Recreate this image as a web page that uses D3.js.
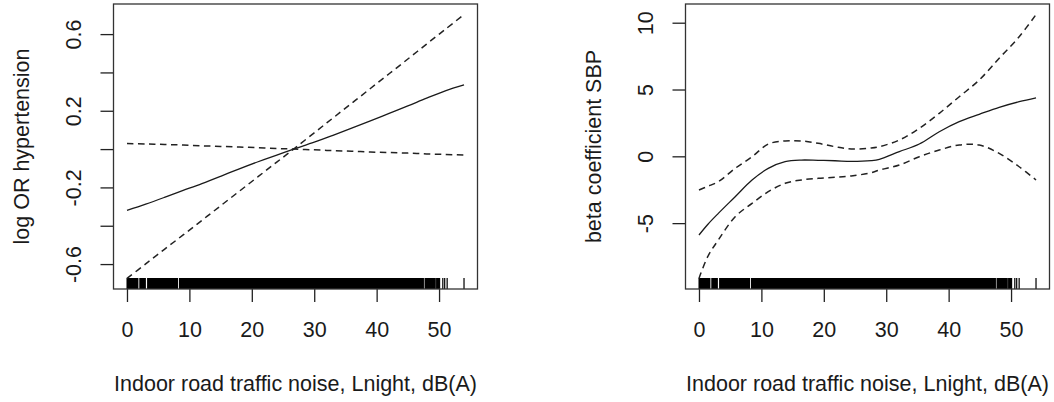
<!DOCTYPE html>
<html>
<head>
<meta charset="utf-8">
<script src="https://cdn.jsdelivr.net/npm/d3@7"></script>
<style>
  body { margin: 0; background: #fff; }
  svg text { font-family: "Liberation Sans", Arial, sans-serif; font-size: 21.5px; fill: #1a1a1a; }
</style>
</head>
<body>
<div id="chart"></div>
<script>
// x grid and series, left panel (log OR hypertension)
var leftX     = [0, 3, 6, 9, 12, 15, 18, 21, 24, 26.7, 30, 33, 36, 39, 42, 45, 48, 51, 54];
var leftFit   = [-0.320, -0.287, -0.252, -0.216, -0.180, -0.142, -0.103, -0.066, -0.031, 0, 0.036, 0.072, 0.109, 0.147, 0.186, 0.225, 0.266, 0.304, 0.335];
var leftCiA   = [-0.675, -0.599, -0.523, -0.448, -0.372, -0.296, -0.220, -0.144, -0.068, 0, 0.085, 0.162, 0.239, 0.316, 0.393, 0.470, 0.548, 0.625, 0.702];
var leftCiB   = [0.029, 0.027, 0.024, 0.021, 0.017, 0.014, 0.011, 0.007, 0.003, 0, -0.004, -0.008, -0.011, -0.015, -0.018, -0.021, -0.025, -0.028, -0.031];
var leftYTicks  = [-0.6, -0.4, -0.2, 0, 0.2, 0.4, 0.6];
var leftYLabels = [-0.6, -0.2, 0.2, 0.6];

// right panel (beta coefficient SBP)
var rightX     = [0, 1.4, 3.1, 5.8, 8.5, 11.1, 13.8, 16.4, 19.1, 21.8, 24.4, 27.6, 28.9, 32.1, 35.3, 38.5, 41.7, 44.9, 48.1, 51.3, 54];
var rightFit   = [-5.89, -5.10, -4.27, -3.02, -1.77, -0.90, -0.40, -0.28, -0.30, -0.33, -0.38, -0.32, -0.22, 0.35, 0.92, 1.84, 2.59, 3.14, 3.67, 4.09, 4.38];
var rightUpper = [-2.52, -2.25, -1.90, -0.90, -0.03, 0.92, 1.15, 1.15, 0.97, 0.72, 0.55, 0.62, 0.72, 1.22, 2.10, 3.22, 4.46, 5.71, 7.34, 8.95, 10.61];
var rightLower = [-9.14, -7.51, -6.26, -4.52, -3.52, -2.65, -2.02, -1.77, -1.65, -1.57, -1.47, -1.23, -1.03, -0.65, -0.03, 0.47, 0.85, 0.85, 0.22, -0.78, -1.77];
var rightYTicks  = [-5, 0, 5, 10];
var rightYLabels = [-5, 0, 5, 10];

// shared
var xTicks = [0, 10, 20, 30, 40, 50];
var rugSpans = [[0, 1.75], [2.05, 2.95], [3.3, 8.1], [8.4, 47.5], [47.75, 49.4], [49.6, 50.1]];
var rugSingles = [50.6, 50.9, 51.3, 54];
var xTitle = "Indoor road traffic noise, Lnight, dB(A)";

var svg = d3.select("#chart").append("svg")
  .attr("width", 1054)
  .attr("height", 402);

function pad(ext) {
  var r = ext[1] - ext[0];
  return [ext[0] - 0.04 * r, ext[1] + 0.04 * r];
}

function drawPanel(p) {
  var xs = d3.scaleLinear().domain(pad(d3.extent(p.x))).range([p.left, p.right]);
  var allY = p.fit.concat(p.ciA, p.ciB);
  var ys = d3.scaleLinear().domain(pad(d3.extent(allY))).range([p.bottom, p.top]);

  var g = svg.append("g");

  // rug
  g.selectAll(".rugspan").data(rugSpans).enter().append("rect")
    .attr("x", function (d) { return xs(d[0]) - 0.5; })
    .attr("width", function (d) { return xs(d[1]) - xs(d[0]) + 1; })
    .attr("y", p.bottom - 11)
    .attr("height", 11)
    .attr("fill", "#000");
  g.selectAll(".rugtick").data(rugSingles).enter().append("line")
    .attr("x1", function (d) { return xs(d); })
    .attr("x2", function (d) { return xs(d); })
    .attr("y1", p.bottom - 11)
    .attr("y2", p.bottom)
    .attr("stroke", "#111")
    .attr("stroke-width", 1.3);

  // lines
  var line = d3.line()
    .x(function (d, i) { return xs(p.x[i]); })
    .y(function (d) { return ys(d); })
    .curve(d3.curveCatmullRom);

  g.append("path").attr("d", line(p.fit))
    .attr("fill", "none").attr("stroke", "#1a1a1a").attr("stroke-width", 1.3);
  [p.ciA, p.ciB].forEach(function (s) {
    g.append("path").attr("d", line(s))
      .attr("fill", "none").attr("stroke", "#222").attr("stroke-width", 1.5)
      .attr("stroke-dasharray", "6.5,4.5");
  });

  // x axis
  var xAxis = d3.axisBottom(xs).tickValues(xTicks).tickSize(13).tickSizeOuter(0).tickPadding(20)
    .tickFormat(function (d) { return String(d); });
  var gx = g.append("g").attr("transform", "translate(0," + p.bottom + ")").call(xAxis);
  gx.select(".domain").remove();
  gx.selectAll("line").attr("stroke", "#222").attr("stroke-width", 1.3);
  gx.selectAll("text").attr("fill", "#1a1a1a").style("font-size", "21.5px")
    .style("font-family", "'Liberation Sans', Arial, sans-serif");

  // y axis
  var yAxis = d3.axisLeft(ys).tickValues(p.yTicks).tickSize(13).tickSizeOuter(0)
    .tickFormat(function (d) {
      var hit = p.yLabels.some(function (v) { return Math.abs(v - d) < 1e-9; });
      return hit ? p.fmt(d) : "";
    });
  var gy = g.append("g").attr("transform", "translate(" + p.left + ",0)").call(yAxis);
  gy.select(".domain").remove();
  gy.selectAll("line").attr("stroke", "#222").attr("stroke-width", 1.3);
  gy.selectAll("text")
    .attr("transform", "rotate(-90)")
    .attr("x", 0).attr("y", -32.5).attr("dy", 0)
    .attr("text-anchor", "middle")
    .attr("fill", "#1a1a1a").style("font-size", "21.5px")
    .style("font-family", "'Liberation Sans', Arial, sans-serif");

  // box
  g.append("rect")
    .attr("x", p.left).attr("y", p.top)
    .attr("width", p.right - p.left).attr("height", p.bottom - p.top)
    .attr("fill", "none").attr("stroke", "#333").attr("stroke-width", 1.3);

  // titles
  g.append("text")
    .attr("x", (p.left + p.right) / 2).attr("y", 391)
    .attr("text-anchor", "middle")
    .text(xTitle);
  g.append("text")
    .attr("transform", "translate(" + (p.left - 84.5) + "," + ((p.top + p.bottom) / 2) + ") rotate(-90)")
    .attr("text-anchor", "middle")
    .text(p.yTitle);
}

drawPanel({
  x: leftX, fit: leftFit, ciA: leftCiA, ciB: leftCiB,
  yTicks: leftYTicks, yLabels: leftYLabels,
  fmt: function (d) { return d.toFixed(1); },
  yTitle: "log OR hypertension",
  left: 113.5, right: 477.5, top: 4, bottom: 289
});

drawPanel({
  x: rightX, fit: rightFit, ciA: rightUpper, ciB: rightLower,
  yTicks: rightYTicks, yLabels: rightYLabels,
  fmt: function (d) { return String(d); },
  yTitle: "beta coefficient SBP",
  left: 685.5, right: 1049.5, top: 4, bottom: 289
});
</script>
</body>
</html>
